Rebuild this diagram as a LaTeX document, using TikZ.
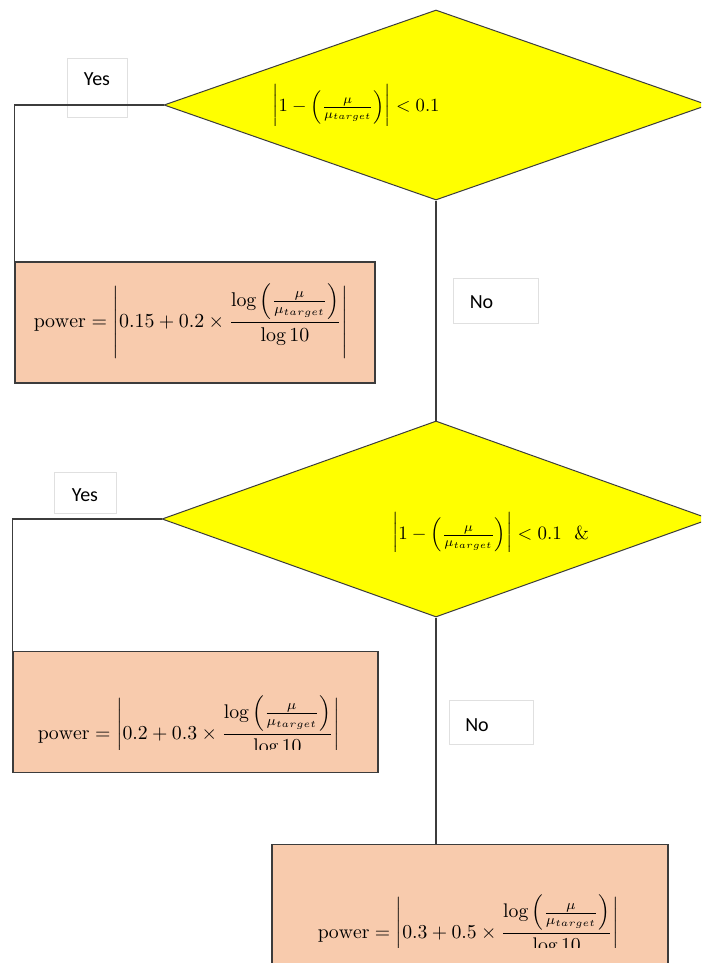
\documentclass[tikz,border=0pt]{standalone}
\usepackage{amsmath}
\usepackage{graphicx}
\usepackage{fontspec}
\newfontfamily\lblfont{Carlito}
\usetikzlibrary{shapes.geometric}
\definecolor{peach}{RGB}{248,203,173}
\definecolor{ylw}{RGB}{255,255,0}
\definecolor{edge}{RGB}{60,60,60}
\newcommand{\fitw}[2]{\resizebox{#1}{!}{$\displaystyle #2$}}
\newcommand{\powf}[2]{\mathrm{power} = \left|#1 + #2\times\frac{\log\left(\frac{\mu}{\mu_{target}}\right)}{\log 10}\right|}
\newcommand{\cond}{\biggl|1-\Bigl(\genfrac{}{}{}{1}{\mu}{\mu_{target}}\Bigr)\biggr| < 0.1}
\begin{document}
\begin{tikzpicture}[x=1pt,y=-1pt,
  dec/.style={diamond, draw=edge, fill=ylw, line width=1pt, inner sep=0pt},
  res/.style={rectangle, draw=edge, fill=peach, line width=1.3pt, inner sep=0pt},
  lbl/.style={rectangle, draw=black!12, fill=white, line width=0.6pt, inner sep=0pt, anchor=base, font=\lblfont\fontsize{20}{24}\selectfont},
  conn/.style={draw=edge, line width=1.3pt},
  eq/.style={inner sep=0pt, text=black}]
\useasboundingbox (0,0) rectangle (701,963);
\clip (0,0) rectangle (701,963);
\fill[white] (0,0) rectangle (701,963);
% decisions and results
\node[dec, minimum width=544pt, minimum height=190pt] (d1) at (436,105) {};
\node[dec, minimum width=548pt, minimum height=196pt] (d2) at (436,519) {};
\node[res, minimum width=360pt, minimum height=121pt] (b1) at (195,322.5) {};
\node[res, minimum width=365pt, minimum height=121pt] (b2) at (195.5,712) {};
\node[res, minimum width=396pt, minimum height=121pt] (b3) at (470,905) {};
% labels
\node[lbl, minimum width=60pt, text height=28pt, text depth=31pt] (y1) at (97,86) {Yes};
\node[lbl, minimum width=85pt, text height=30pt, text depth=15pt] (n1) at (495.5,308) {No\hspace*{28pt}};
\node[lbl, minimum width=62pt, text height=29pt, text depth=12pt] (y2) at (85,501) {Yes};
\node[lbl, minimum width=84pt, text height=31pt, text depth=13pt] (n2) at (491,731) {No\hspace*{28pt}};
% connectors
\draw[conn] (d1.west) -| (b1.north west);
\draw[conn] (d1.south) -- (d2.north);
\draw[conn] (d2.west) -| (b2.north west);
\draw[conn] (d2.south) -- (d2.south |- b3.north);
% formulas
\begin{scope}
\clip (150,70) rectangle (650,126);
\node[eq] (c1) at (356,107) {\fitw{167pt}{\cond}};
\end{scope}
\begin{scope}
\clip (300,480) rectangle (690,551);
\node[eq] (c2) at (490.5,535) {\fitw{197pt}{\cond\ \ \&}};
\end{scope}
\node[eq] (f1) at (191,321) {\fitw{314pt}{\powf{0.15}{0.2}}};
\begin{scope}
\clip (20,660) rectangle (370,749);
\node[eq] (f2) at (189,733) {\fitw{302pt}{\powf{0.2}{0.3}}};
\end{scope}
\begin{scope}
\clip (280,850) rectangle (660,947);
\node[eq] (f3) at (468.5,932) {\fitw{301pt}{\powf{0.3}{0.5}}};
\end{scope}
\end{tikzpicture}
\end{document}
